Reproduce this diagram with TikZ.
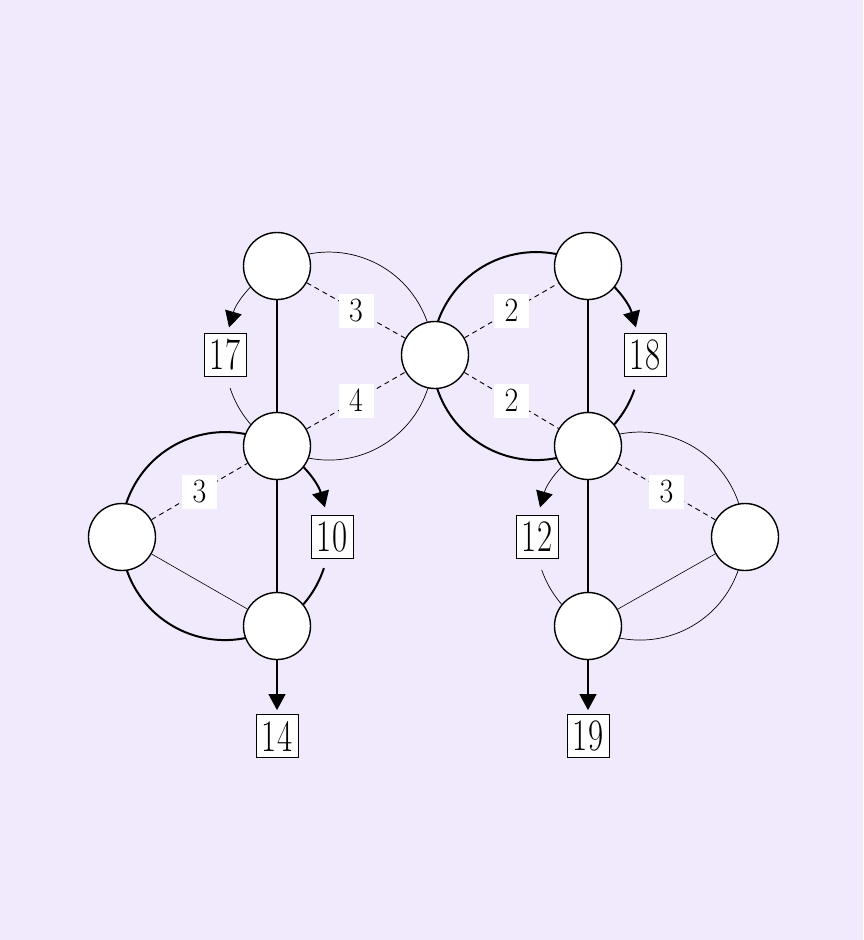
\documentclass[tikz,border=0pt]{standalone}
\usetikzlibrary{arrows.meta}
\definecolor{bgc}{RGB}{240,234,252}
\pgfdeclarelayer{back}
\pgfdeclarelayer{edges}
\pgfsetlayers{back,edges,main}
\begin{document}
\begin{tikzpicture}[x=1pt,y=1pt,
  vert/.style={circle,draw,fill=white,line width=1.4pt,minimum size=67pt,inner sep=0pt},
  wlab/.style={fill=white,inner sep=0pt,minimum width=35pt,minimum height=34pt,font=\fontsize{34}{34}\selectfont},
  blab/.style={draw,fill=white,line width=0.8pt,inner sep=0pt,minimum width=42pt,minimum height=43pt,font=\fontsize{45}{45}\selectfont},
  thinarc/.style={line width=0.7pt},
  thickarc/.style={line width=2pt},
  tip/.style={-{Triangle[length=16pt,width=17pt]}},
  solidedge/.style={line width=1.1pt},
  lightedge/.style={line width=0.6pt},
  dashedge/.style={line width=0.9pt,dash pattern=on 5pt off 4pt}]
\useasboundingbox (0,0) rectangle (863,-940);
\begin{pgfonlayer}{back}
\fill[bgc] (0,0) rectangle (863,-940);
\end{pgfonlayer}
% vertices
\node[vert] (A) at (277,-266) {};
\node[vert] (B) at (277,-446) {};
\node[vert] (C) at (435,-355) {};
\node[vert] (D) at (588,-266) {};
\node[vert] (E) at (588,-446) {};
\node[vert] (F) at (122,-537) {};
\node[vert] (G) at (277,-626) {};
\node[vert] (H) at (588,-626) {};
\node[vert] (I) at (745,-537) {};
% boxed labels
\node[blab] (l17) at (225,-355) {\scalebox{0.73}[1]{17}};
\node[blab] (l10) at (332,-537) {\scalebox{0.73}[1]{10}};
\node[blab] (l18) at (645,-355) {\scalebox{0.73}[1]{18}};
\node[blab] (l12) at (537,-537) {\scalebox{0.73}[1]{12}};
\node[blab] (l14) at (277,-736) {\scalebox{0.73}[1]{14}};
\node[blab] (l19) at (588,-736) {\scalebox{0.73}[1]{19}};
\begin{pgfonlayer}{edges}
% top-left circle (thin)
\draw[thinarc] (A.center) arc[start angle=120,end angle=-120,radius=104pt];
\draw[thinarc,tip] (A.center) arc[start angle=120,end angle=164,radius=104pt];
\draw[thinarc] (B.center) arc[start angle=240,end angle=198,radius=104pt];
% bottom-left circle (thick)
\draw[thickarc] (B.center) arc[start angle=60,end angle=300,radius=104pt];
\draw[thickarc,tip] (B.center) arc[start angle=60,end angle=16,radius=104pt];
\draw[thickarc] (G.center) arc[start angle=-60,end angle=-18,radius=104pt];
% top-right circle (thick)
\draw[thickarc] (D.center) arc[start angle=60,end angle=300,radius=104pt];
\draw[thickarc,tip] (D.center) arc[start angle=60,end angle=16,radius=104pt];
\draw[thickarc] (E.center) arc[start angle=-60,end angle=-19,radius=104pt];
% bottom-right circle (thin)
\draw[thinarc] (E.center) arc[start angle=120,end angle=-120,radius=104pt];
\draw[thinarc,tip] (E.center) arc[start angle=120,end angle=164,radius=104pt];
\draw[thinarc] (H.center) arc[start angle=240,end angle=199,radius=104pt];
% straight edges
\draw[solidedge] (A) -- (B);
\draw[solidedge] (B) -- (G);
\draw[solidedge] (D) -- (E);
\draw[solidedge] (E) -- (H);
\draw[lightedge] (F) -- (G);
\draw[lightedge] (I) -- (H);
\draw[dashedge] (A) -- node[wlab] {\scalebox{0.88}[1]{3}} (C);
\draw[dashedge] (B) -- node[wlab] {\scalebox{0.88}[1]{4}} (C);
\draw[dashedge] (C) -- node[wlab] {\scalebox{0.88}[1]{2}} (D);
\draw[dashedge] (C) -- node[wlab] {\scalebox{0.88}[1]{2}} (E);
\draw[dashedge] (F) -- node[wlab] {\scalebox{0.88}[1]{3}} (B);
\draw[dashedge] (E) -- node[wlab] {\scalebox{0.88}[1]{3}} (I);
\draw[solidedge,tip,shorten >=4pt] (G) -- (l14);
\draw[solidedge,tip,shorten >=4pt] (H) -- (l19);
\end{pgfonlayer}
\end{tikzpicture}
\end{document}
